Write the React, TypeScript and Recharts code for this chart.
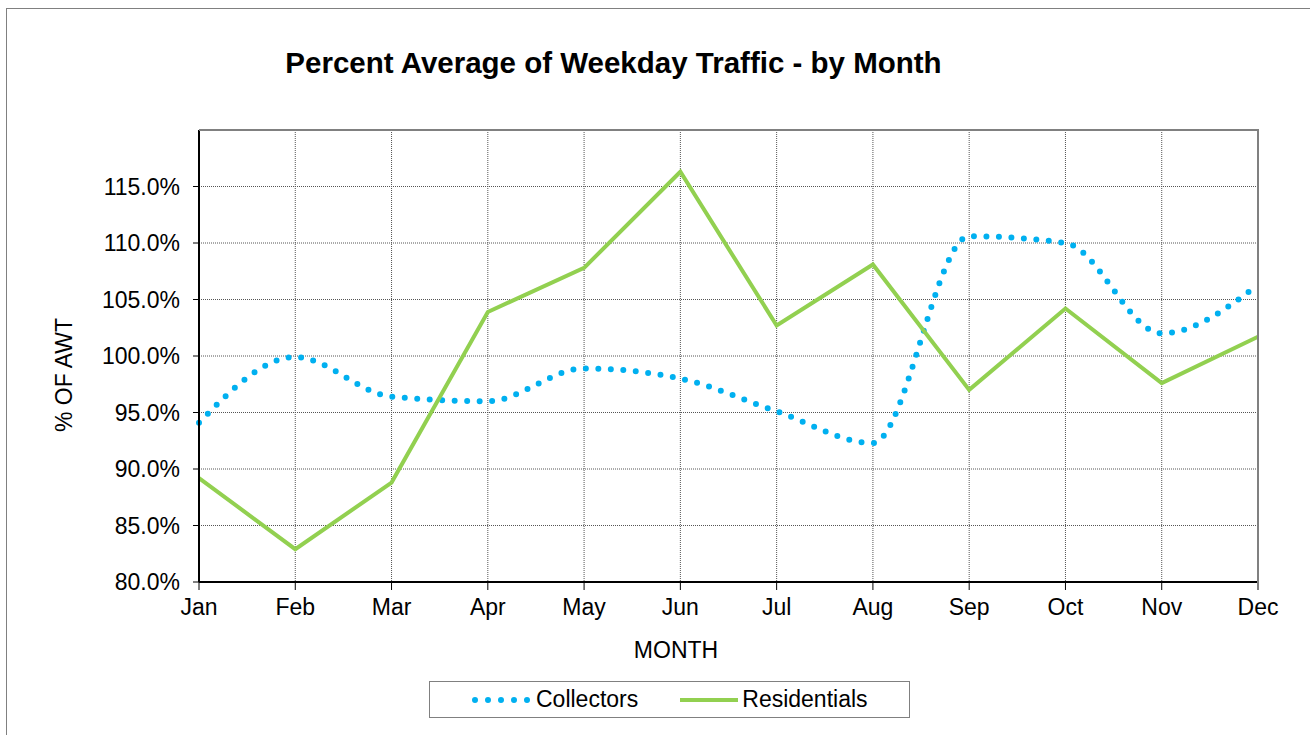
import { LineChart, Line, XAxis, YAxis, CartesianGrid } from 'recharts';

const months = ['Jan', 'Feb', 'Mar', 'Apr', 'May', 'Jun', 'Jul', 'Aug', 'Sep', 'Oct', 'Nov', 'Dec'];
const collectors = [94.1, 99.9, 96.4, 96.0, 98.9, 98.0, 95.1, 92.3, 110.6, 110.0, 102.0, 106.3];
const residentials = [89.2, 82.9, 88.8, 103.9, 107.8, 116.3, 102.7, 108.1, 97.0, 104.2, 97.6, 101.7];
const yTicks = [80, 85, 90, 95, 100, 105, 110, 115];

const data = months.map((m, i) => ({ month: m, Collectors: collectors[i], Residentials: residentials[i] }));

const FONT = '"Liberation Sans", Arial, sans-serif';
const BLUE = '#00B0F0';
const GREEN = '#92D050';
const FS = 23;

function LegendBox() {
  return (
    <div
      style={{
        position: 'absolute',
        left: 429,
        top: 681,
        width: 479,
        height: 35,
        border: '1px solid #808080',
        display: 'flex',
        alignItems: 'center',
        fontSize: FS,
        color: '#000',
      }}
    >
      <svg width={62} height={10} style={{ marginLeft: 40 }}>
        <line x1={5} y1={5} x2={58} y2={5} stroke={BLUE} strokeWidth={6} strokeDasharray="0 13" strokeLinecap="round" />
      </svg>
      <span style={{ marginLeft: 4 }}>Collectors</span>
      <svg width={58} height={10} style={{ marginLeft: 42 }}>
        <line x1={0} y1={5} x2={58} y2={5} stroke={GREEN} strokeWidth={4} />
      </svg>
      <span style={{ marginLeft: 4 }}>Residentials</span>
    </div>
  );
}

export default function App() {
  return (
    <div style={{ position: 'relative', width: 1310, height: 735, overflow: 'hidden', background: '#fff', fontFamily: FONT }}>
      <style>{'body{margin:0}'}</style>
      <div style={{ position: 'absolute', left: 6, top: 8, width: 1400, height: 800, border: '1px solid #808080' }} />
      <div
        style={{
          position: 'absolute',
          left: 0,
          width: 1227,
          top: 46,
          textAlign: 'center',
          fontSize: 29.5,
          fontWeight: 'bold',
          color: '#000',
        }}
      >
        Percent Average of Weekday Traffic - by Month
      </div>
      <div style={{ position: 'absolute', left: 0, top: 0 }}>
        <LineChart width={1310} height={735} data={data} margin={{ top: 130, right: 52, left: 99, bottom: 123 }}>
          <CartesianGrid stroke="#555" strokeDasharray="1 1" />
          <XAxis
            dataKey="month"
            tick={{ fill: '#000', fontSize: FS, fontFamily: FONT }}
            tickSize={8}
            tickMargin={9}
            height={30}
            axisLine={{ stroke: '#000', strokeWidth: 2 }}
            tickLine={{ stroke: '#000' }}
            interval={0}
          />
          <YAxis
            domain={[80, 120]}
            ticks={yTicks}
            width={100}
            tickFormatter={(v: number) => v.toFixed(1) + '%'}
            tick={{ fill: '#000', fontSize: FS, fontFamily: FONT }}
            tickSize={6}
            tickMargin={13}
            axisLine={{ stroke: '#000', strokeWidth: 2 }}
            tickLine={{ stroke: '#000' }}
            allowDataOverflow
          />
          <Line
            dataKey="Collectors"
            type="monotone"
            stroke={BLUE}
            strokeWidth={6}
            strokeDasharray="0 12.5"
            strokeLinecap="round"
            dot={false}
            activeDot={false}
            isAnimationActive={false}
          />
          <Line
            dataKey="Residentials"
            type="linear"
            stroke={GREEN}
            strokeWidth={4}
            dot={false}
            activeDot={false}
            isAnimationActive={false}
          />
        </LineChart>
      </div>
      {/* plot frame: gray top and right edges */}
      <div style={{ position: 'absolute', left: 199, top: 129, width: 1058, height: 452, borderTop: '2px solid #808080', borderRight: '2px solid #808080', pointerEvents: 'none' }} />
      <div style={{ position: 'absolute', left: 0, width: 1352, top: 637, textAlign: 'center', fontSize: FS, color: '#000' }}>MONTH</div>
      <div
        style={{
          position: 'absolute',
          left: 64,
          top: 375,
          transform: 'translate(-50%, -50%) rotate(-90deg)',
          whiteSpace: 'nowrap',
          fontSize: FS,
          color: '#000',
        }}
      >
        % OF AWT
      </div>
      <LegendBox />
    </div>
  );
}
